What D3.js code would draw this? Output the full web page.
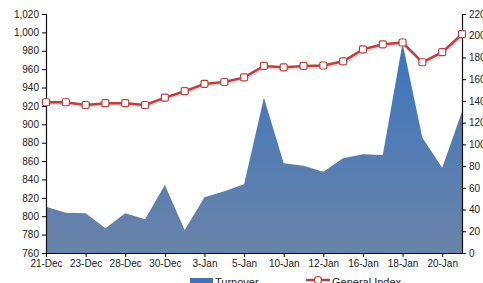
<!DOCTYPE html>
<meta charset="utf-8">
<head>
  <script src="https://d3js.org/d3.v7.min.js"></script>
  <style>
    body { margin: 0; background: #fff; }
    text { font-family: "Liberation Sans", Arial, sans-serif; fill: #222; }
  </style>
</head>
<body>
<div id="display"></div>
<script>

// trading days (only every other one is labelled)
var days = ["21-Dec","22-Dec","23-Dec","24-Dec","28-Dec","29-Dec","30-Dec","31-Dec",
            "3-Jan","4-Jan","5-Jan","6-Jan","10-Jan","11-Jan","12-Jan","13-Jan",
            "16-Jan","17-Jan","18-Jan","19-Jan","20-Jan","21-Jan"];
var generalIndex = [924, 924, 921, 923, 923, 921, 929, 936, 944, 946, 951, 963.5,
                    962, 963.5, 964, 968.5, 981.5, 987, 989, 967.5, 978.5, 998];
var turnover = [42.6, 37, 36.5, 22.7, 36.5, 31, 62.6, 21.2, 51.3, 56.8, 63.2, 143,
                82.6, 80.4, 74.8, 87.2, 90.8, 90.2, 193, 106, 78.5, 130];
var leftTicks = d3.range(760, 1021, 20);
var rightTicks = d3.range(0, 221, 20);

var margin = {top: 14, right: 21, bottom: 30, left: 46},
    width = 483 - margin.left - margin.right,
    height = 283 - margin.top - margin.bottom;

var svg = d3.select("#display")
  .append("svg")
    .attr("width", 483)
    .attr("height", 283)
  .append("g")
    .attr("transform", "translate(" + margin.left + "," + margin.top + ")");

var x = d3.scalePoint()
  .domain(days)
  .range([0, width]);

var yL = d3.scaleLinear().domain([760, 1020]).range([height, 0]);
var yR = d3.scaleLinear().domain([0, 220]).range([height, 0]);

var grad = svg.append("defs").append("linearGradient")
  .attr("id", "areaGrad")
  .attr("x1", 0).attr("y1", 0).attr("x2", 0).attr("y2", 1)
  .attr("gradientUnits", "userSpaceOnUse")
  .attr("y1", yR(200)).attr("y2", yR(0));
grad.append("stop").attr("offset", "0%").attr("stop-color", "#3b74c0");
grad.append("stop").attr("offset", "100%").attr("stop-color", "#6a84a8");

// turnover area
svg.append("path")
  .datum(turnover)
  .attr("fill", "url(#areaGrad)")
  .attr("d", d3.area()
    .x(function(d, i) { return x(days[i]); })
    .y0(height)
    .y1(function(d) { return yR(d); }));

// axes
var fmt = d3.format(",");
svg.append("g")
  .call(d3.axisLeft(yL).tickValues(leftTicks).tickFormat(fmt).tickSize(4).tickPadding(3))
  .call(function(g) { g.selectAll("text").style("font-size", "10px"); });

svg.append("g")
  .attr("transform", "translate(" + width + ",0)")
  .call(d3.axisRight(yR).tickValues(rightTicks).tickSize(4).tickPadding(3))
  .call(function(g) { g.selectAll("text").style("font-size", "10px"); });

svg.append("g")
  .attr("transform", "translate(0," + height + ")")
  .call(d3.axisBottom(x).tickValues(days.filter(function(d, i) { return i % 2 == 0 && i < 21; }))
    .tickSize(4).tickSizeOuter(0).tickPadding(3))
  .call(function(g) { g.selectAll("text").style("font-size", "10px"); });

svg.selectAll(".domain").attr("stroke", "#111").attr("stroke-width", 1.2);

// general index line
var line = d3.line()
  .x(function(d, i) { return x(days[i]); })
  .y(function(d) { return yL(d); });

svg.append("path")
  .datum(generalIndex)
  .attr("fill", "none")
  .attr("stroke", "rgba(0,0,0,0.15)")
  .attr("stroke-width", 2.5)
  .attr("transform", "translate(1,1.5)")
  .attr("d", line);

svg.append("path")
  .datum(generalIndex)
  .attr("fill", "none")
  .attr("stroke", "#c0403d")
  .attr("stroke-width", 2.5)
  .attr("d", line);

svg.selectAll(".mk")
  .data(generalIndex)
  .enter()
  .append("rect")
    .attr("class", "mk")
    .attr("x", function(d, i) { return x(days[i]) - 3.5; })
    .attr("y", function(d) { return yL(d) - 3.5; })
    .attr("width", 7)
    .attr("height", 7)
    .attr("rx", 1.5)
    .attr("fill", "#fff")
    .attr("stroke", "#c0403d")
    .attr("stroke-width", 1.2);

// legend
var legend = d3.select("svg").append("g");
legend.append("rect")
  .attr("x", 190).attr("y", 278).attr("width", 23).attr("height", 8)
  .attr("fill", "#3f74bd");
legend.append("text")
  .attr("x", 215).attr("y", 286).style("font-size", "11px").text("Turnover");
legend.append("line")
  .attr("x1", 306).attr("x2", 330).attr("y1", 280).attr("y2", 280)
  .attr("stroke", "#c0403d").attr("stroke-width", 2.5);
legend.append("circle")
  .attr("cx", 318).attr("cy", 280).attr("r", 3.5)
  .attr("fill", "#fff").attr("stroke", "#c0403d").attr("stroke-width", 1.2);
legend.append("text")
  .attr("x", 332).attr("y", 286).style("font-size", "11px").text("General Index");

</script>
</body>
